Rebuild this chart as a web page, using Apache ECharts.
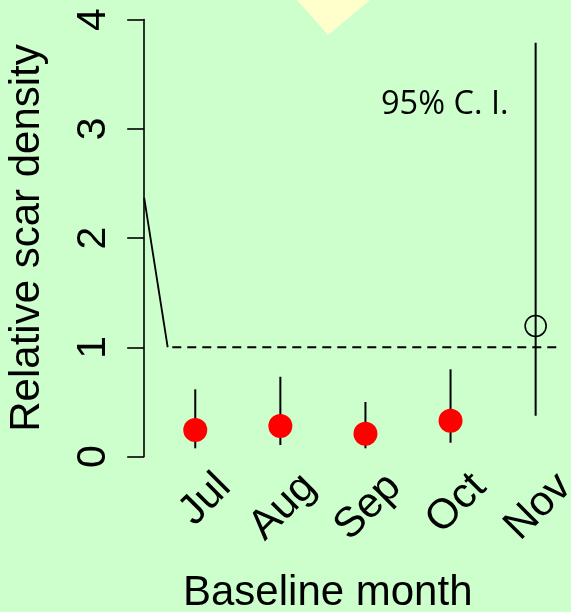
<!DOCTYPE html>
<html>
<head>
<meta charset="utf-8">
<title>Relative scar density by baseline month</title>
<script src="https://cdn.jsdelivr.net/npm/echarts@6/dist/echarts.min.js"></script>
<style>
  html, body { margin: 0; padding: 0; background: #CCFFCC; }
  #chart { width: 571px; height: 612px; }
</style>
</head>
<body>
<div id="chart"></div>
<script>
// Baseline months and their positions on the x scale
const months = ['Jul', 'Aug', 'Sep', 'Oct', 'Nov'];
const monthPos = [1, 2, 3, 4, 5];

// Relative scar density estimates with 95% confidence limits
const estimates = [0.243, 0.279, 0.209, 0.328, 1.195];
const lower = [0.075, 0.105, 0.075, 0.126, 0.373];
const upper = [0.615, 0.730, 0.499, 0.798, 3.788];

// Months with a significant estimate are filled; the rest are open
const significant = [true, true, true, true, false];

// Reference level and the connector drawn from the axis down to it
const referenceLevel = 1;
const referenceSpan = [0.73, 5.28];
const connector = [[0.4, 2.366], [0.676, 1.0]];

// Y ticks
const yTicks = [0, 1, 2, 3, 4];

// Month labels sit a little right of each point
const labelShift = 0.34;

const axisFont = 'Liberation Sans, Arial, Helvetica, sans-serif';

const chart = echarts.init(document.getElementById('chart'), null, { renderer: 'canvas' });

const filledPts = [];
const openPts = [];
const bars = [];
monthPos.forEach((x, i) => {
  bars.push([x, lower[i], upper[i]]);
  (significant[i] ? filledPts : openPts).push([x, estimates[i]]);
});

chart.setOption({
  animation: false,
  backgroundColor: '#CCFFCC',
  grid: {
    left: 144.2, top: 19.5, width: 442.5, height: 437,
    containLabel: false, outerBoundsMode: 'none'
  },
  xAxis: {
    type: 'value',
    min: 0.4,
    max: 5.6,
    axisLine: { show: false },
    axisTick: { show: false },
    splitLine: { show: false },
    axisLabel: {
      customValues: monthPos.map(p => p + labelShift),
      formatter: v => months[Math.round(v - labelShift) - 1] || '',
      rotate: 45,
      margin: 24,
      color: '#000',
      fontFamily: axisFont,
      fontSize: 42
    }
  },
  yAxis: {
    type: 'value',
    min: yTicks[0],
    max: yTicks[yTicks.length - 1],
    interval: 1,
    name: 'Relative scar density',
    nameLocation: 'middle',
    nameGap: 96,
    nameTextStyle: { color: '#000', fontFamily: axisFont, fontSize: 42 },
    axisLine: { show: true, lineStyle: { color: '#000', width: 1.6 } },
    axisTick: { show: true, inside: false, length: 17, lineStyle: { color: '#000', width: 1.6 } },
    splitLine: { show: false },
    axisLabel: {
      rotate: 90,
      margin: 30,
      color: '#000',
      fontFamily: axisFont,
      fontSize: 41
    }
  },
  graphic: [
    {
      type: 'polygon',
      z: -1,
      shape: { points: [[297, 0], [370, 0], [328, 35]] },
      style: { fill: '#FFFFCC' }
    },
    {
      type: 'text',
      left: 183,
      top: 572,
      style: {
        text: 'Baseline month',
        fill: '#000',
        font: '42px ' + axisFont
      }
    },
    {
      type: 'text',
      left: 381,
      top: 88,
      style: {
        text: '95% C. I.',
        fill: '#000',
        font: '32.5px "Open Sans", "Noto Sans", sans-serif'
      }
    }
  ],
  series: [
    {
      type: 'line',
      data: connector,
      symbol: 'none',
      lineStyle: { color: '#000', width: 1.8 },
      z: 2
    },
    {
      type: 'line',
      data: referenceSpan.map(x => [x, referenceLevel]),
      symbol: 'none',
      lineStyle: { color: '#000', width: 2, type: [9, 6] },
      z: 2
    },
    {
      type: 'custom',
      data: bars,
      z: 3,
      renderItem: (params, api) => {
        const a = api.coord([api.value(0), api.value(1)]);
        const b = api.coord([api.value(0), api.value(2)]);
        return {
          type: 'line',
          shape: { x1: a[0], y1: a[1], x2: b[0], y2: b[1] },
          style: { stroke: '#000', lineWidth: 2 }
        };
      }
    },
    {
      type: 'scatter',
      data: filledPts,
      symbol: 'circle',
      symbolSize: 24,
      itemStyle: { color: '#FF0000', opacity: 1 },
      z: 4
    },
    {
      type: 'scatter',
      data: openPts,
      symbol: 'circle',
      symbolSize: 21,
      itemStyle: { color: 'rgba(0,0,0,0)', borderColor: '#000', borderWidth: 1.6, opacity: 1 },
      z: 4
    }
  ]
});
</script>
</body>
</html>
